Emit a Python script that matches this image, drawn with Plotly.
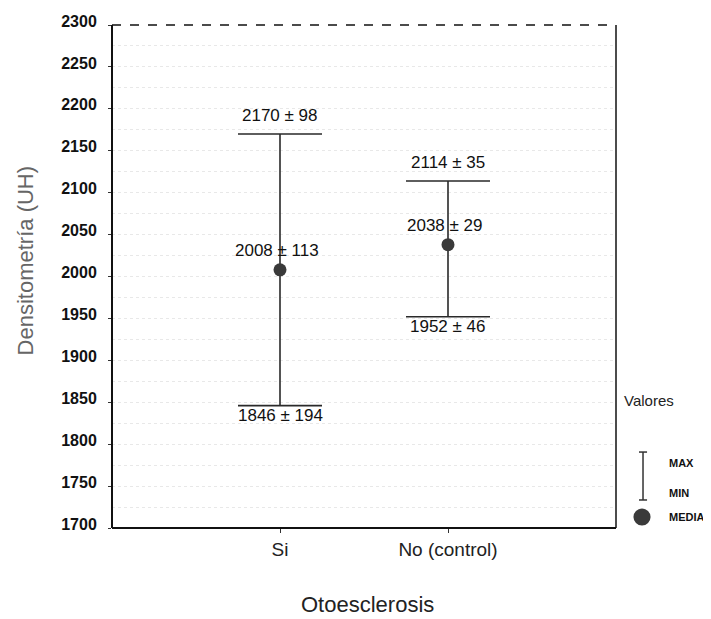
import plotly.graph_objects as go

categories = ["Si", "No (control)"]
means = [2008, 2038]
maxs = [2170, 2114]
mins = [1846, 1952]
max_labels = ["2170 ± 98", "2114 ± 35"]
mean_labels = ["2008 ± 113", "2038 ± 29"]
min_labels = ["1846 ± 194", "1952 ± 46"]
y_ticks = list(range(1700, 2301, 50))

xpos = [0, 1]
err_plus = [mx - m for mx, m in zip(maxs, means)]
err_minus = [m - mn for m, mn in zip(means, mins)]

FONT = "Liberation Sans, Arial, sans-serif"

fig = go.Figure()
fig.add_trace(go.Scatter(
    x=xpos, y=means, mode="markers",
    marker=dict(size=13, color="#3a3a3a"),
    error_y=dict(type="data", symmetric=False, array=err_plus, arrayminus=err_minus,
                 color="#2a2a2a", thickness=1.6, width=42),
    showlegend=False, hoverinfo="skip",
))

lab_font = dict(family=FONT, size=17, color="#111")
for i in range(2):
    fig.add_annotation(x=xpos[i], y=maxs[i], text=max_labels[i], showarrow=False,
                       yanchor="middle", yshift=18, font=lab_font)
    fig.add_annotation(x=xpos[i], y=means[i], text=mean_labels[i], showarrow=False,
                       yanchor="middle", yshift=19, xshift=-3, font=lab_font)
    fig.add_annotation(x=xpos[i], y=mins[i], text=min_labels[i], showarrow=False,
                       yanchor="middle", yshift=-10, font=lab_font)

# frame: solid left/bottom/right, dashed top
line_c = "#111"
fig.add_shape(type="line", xref="paper", yref="paper", x0=0, x1=0, y0=0, y1=1, line=dict(color=line_c, width=2))
fig.add_shape(type="line", xref="paper", yref="paper", x0=0, x1=1, y0=0, y1=0, line=dict(color=line_c, width=2))
fig.add_shape(type="line", xref="paper", yref="paper", x0=1, x1=1, y0=0, y1=1, line=dict(color=line_c, width=1.5))
fig.add_shape(type="line", xref="paper", yref="paper", x0=0, x1=1, y0=1, y1=1, line=dict(color=line_c, width=1.5, dash="dash"))

# axis titles
fig.add_annotation(xref="paper", yref="paper", x=-0.1726, y=0.53, text="Densitometría (UH)", showarrow=False,
                   textangle=-90, xanchor="center", yanchor="middle",
                   font=dict(family=FONT, size=22, color="#666"))
fig.add_annotation(xref="paper", yref="paper", x=0.506, y=-0.153, text="Otoesclerosis", showarrow=False,
                   xanchor="center", yanchor="middle",
                   font=dict(family=FONT, size=22, color="#222"))

# legend (custom)
fig.add_annotation(xref="paper", yref="paper", x=1.012, y=0.254, text="Valores", showarrow=False,
                   xanchor="left", yanchor="middle", font=dict(family=FONT, size=15, color="#222"))
lx = 1.0536
ytop, ybot = 0.151, 0.0557
fig.add_shape(type="line", xref="paper", yref="paper", x0=lx, x1=lx, y0=ybot, y1=ytop, line=dict(color="#333", width=1.5))
fig.add_shape(type="line", xref="paper", yref="paper", x0=lx - 0.008, x1=lx + 0.008, y0=ytop, y1=ytop, line=dict(color="#333", width=1.5))
fig.add_shape(type="line", xref="paper", yref="paper", x0=lx - 0.008, x1=lx + 0.008, y0=ybot, y1=ybot, line=dict(color="#333", width=1.5))
fig.add_shape(type="circle", xref="paper", yref="paper", x0=lx - 0.019, x1=lx + 0.015, y0=0.005, y1=0.039,
              fillcolor="#3a3a3a", line=dict(color="#3a3a3a", width=0))
small = dict(family=FONT, size=11, color="#111")
for txt, yy in [("<b>MAX</b>", 0.129), ("<b>MIN</b>", 0.0696), ("<b>MEDIA</b>", 0.022)]:
    fig.add_annotation(xref="paper", yref="paper", x=1.101, y=yy, text=txt, showarrow=False,
                       xanchor="left", yanchor="middle", font=small)

fig.update_layout(
    width=703, height=611,
    margin=dict(l=104, r=95, t=17, b=91, autoexpand=False),
    paper_bgcolor="white", plot_bgcolor="white",
    font=dict(family=FONT, color="#111"),
    xaxis=dict(
        range=[-1, 2], tickmode="array", tickvals=xpos, ticktext=categories,
        showline=False, zeroline=False, showgrid=False, automargin=False,
        ticks="outside", ticklen=4, tickcolor="#333",
        tickfont=dict(family=FONT, size=19, color="#222"),
    ),
    yaxis=dict(
        range=[1700, 2300], tickmode="array", tickvals=y_ticks,
        showline=False, zeroline=False, automargin=False,
        ticks="outside", ticklen=3, tickcolor="#333",
        tickfont=dict(family=FONT, size=16, color="#111", weight="bold"),
        ticklabelshift=-4, ticklabelstandoff=8,
        showgrid=True, gridcolor="#e8e8e8", griddash="dot", gridwidth=1,
        minor=dict(dtick=25, showgrid=True, gridcolor="#e8e8e8", griddash="dot"),
    ),
)

fig.write_html("out.html")
